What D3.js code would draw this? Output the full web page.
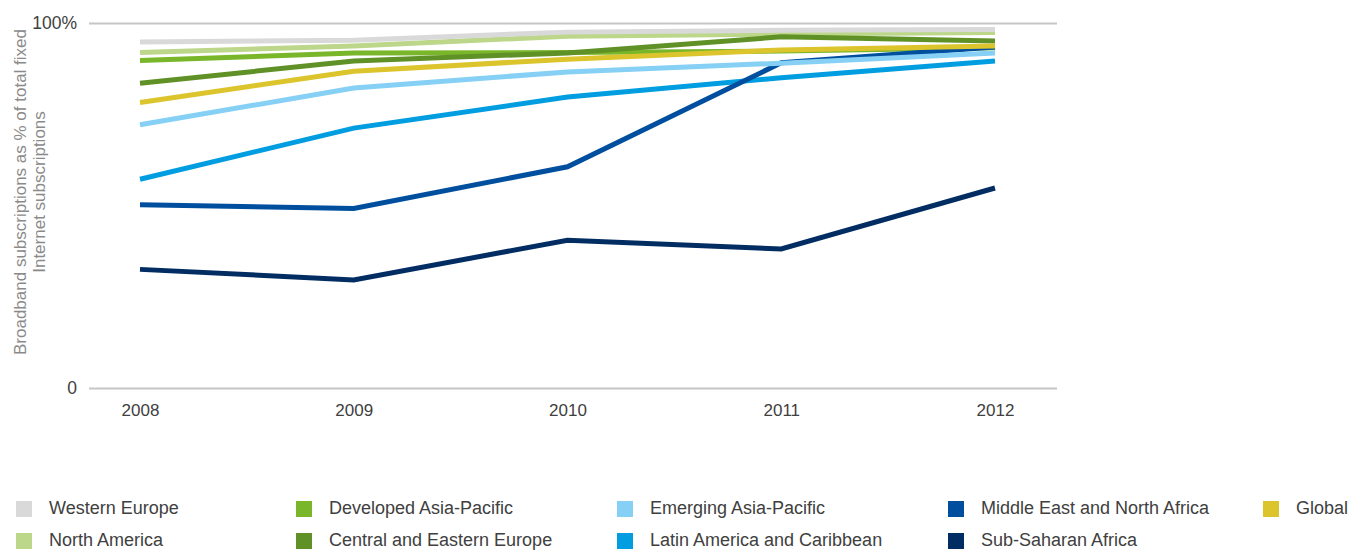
<!DOCTYPE html>
<html>
<head>
<meta charset="utf-8">
<script src="https://cdn.jsdelivr.net/npm/d3@7"></script>
<style>
  body { margin: 0; background: #fff; font-family: "Liberation Sans", Arial, sans-serif; }
  .tick text { fill: #404040; }
</style>
</head>
<body>
<svg id="chart" width="1365" height="552"></svg>
<script>
// years on the x axis
var years = ["2008", "2009", "2010", "2011", "2012"];

// broadband as % of fixed internet subscriptions
var westernEurope   = [94.8, 95.3, 97.5, 98.0, 98.2];
var northAmerica    = [91.9, 93.7, 96.4, 97.0, 97.4];
var developedAsia   = [89.7, 91.8, 91.9, 92.3, 93.2];
var centralEurope   = [83.5, 89.6, 91.8, 96.2, 95.1];
var latinAmerica    = [57.2, 71.2, 79.7, 85.0, 89.6];
var middleEast      = [50.2, 49.2, 60.6, 89.1, 93.4];
var emergingAsia    = [72.1, 82.2, 86.6, 89.0, 91.8];
var global          = [78.2, 86.8, 90.1, 92.6, 93.7];
var subSaharan      = [32.5, 29.6, 40.5, 38.1, 54.8];

var yTicks = [0, 100];

// drawing order (last one on top)
var series = [
  { name: "North America", values: northAmerica, color: "#bcd78a" },
  { name: "Western Europe", values: westernEurope, color: "#d9d9d9" },
  { name: "Developed Asia-Pacific", values: developedAsia, color: "#79b62a" },
  { name: "Central and Eastern Europe", values: centralEurope, color: "#5f9127" },
  { name: "Latin America and Caribbean", values: latinAmerica, color: "#009ee0" },
  { name: "Middle East and North Africa", values: middleEast, color: "#004f9f" },
  { name: "Emerging Asia-Pacific", values: emergingAsia, color: "#85d0f4" },
  { name: "Global", values: global, color: "#dcc42d" },
  { name: "Sub-Saharan Africa", values: subSaharan, color: "#022d63" }
];

// legend, column by column
var legendRows = [
  ["Western Europe", "Developed Asia-Pacific", "Emerging Asia-Pacific", "Middle East and North Africa", "Global"],
  ["North America", "Central and Eastern Europe", "Latin America and Caribbean", "Sub-Saharan Africa"]
];
var legendCols = [16, 296, 617, 948, 1263];

var svg = d3.select("#chart");

var x = d3.scalePoint().domain(years).range([140, 995]);
var y = d3.scaleLinear().domain([0, 100]).range([388, 23]);

// y axis with the two grid lines
var yAxis = svg.append("g")
  .attr("transform", "translate(89,0)")
  .call(d3.axisLeft(y)
    .tickValues(yTicks)
    .tickSize(-968)
    .tickPadding(12)
    .tickFormat(function(d) { return d == 100 ? "100%" : "0"; }));
yAxis.select(".domain").remove();
yAxis.selectAll(".tick line").attr("stroke", "#c6c6c6").attr("stroke-width", 2);
yAxis.selectAll(".tick text")
  .style("font-size", "17.5px")
  .style("font-family", "Liberation Sans, Arial, sans-serif");

// x axis labels only
var xAxis = svg.append("g")
  .attr("transform", "translate(0,388)")
  .call(d3.axisBottom(x).tickSize(0).tickPadding(16));
xAxis.select(".domain").remove();
xAxis.selectAll(".tick text")
  .style("font-size", "17px")
  .style("font-family", "Liberation Sans, Arial, sans-serif");

// y axis title
var title = svg.append("text")
  .attr("transform", "translate(20,192) rotate(-90)")
  .attr("text-anchor", "middle")
  .attr("fill", "#8a8a8a")
  .style("font-size", "17px");
title.append("tspan").attr("x", 0).attr("dy", "0.35em").text("Broadband subscriptions as % of total fixed");
title.append("tspan").attr("x", 0).attr("dy", "1.1em").text("Internet subscriptions");

var line = d3.line()
  .x(function(d, i) { return x(years[i]); })
  .y(function(d) { return y(d); });

svg.append("g").selectAll("path")
  .data(series)
  .enter()
  .append("path")
  .attr("d", function(s) { return line(s.values); })
  .attr("fill", "none")
  .attr("stroke", function(s) { return s.color; })
  .attr("stroke-width", 5)
  .attr("stroke-linejoin", "miter")
  .attr("stroke-linecap", "butt");

// legend
var colorOf = {};
series.forEach(function(s) { colorOf[s.name] = s.color; });

legendRows.forEach(function(row, r) {
  var g = svg.append("g").attr("transform", "translate(0," + (501 + r * 32) + ")");
  var items = g.selectAll("g").data(row).enter().append("g")
    .attr("transform", function(d, i) { return "translate(" + legendCols[i] + ",0)"; });
  items.append("rect")
    .attr("width", 16).attr("height", 16)
    .attr("fill", function(d) { return colorOf[d]; });
  items.append("text")
    .attr("x", 33).attr("y", 7).attr("dy", "0.36em")
    .attr("fill", "#404040")
    .style("font-size", "18px")
    .text(function(d) { return d; });
});
</script>
</body>
</html>
